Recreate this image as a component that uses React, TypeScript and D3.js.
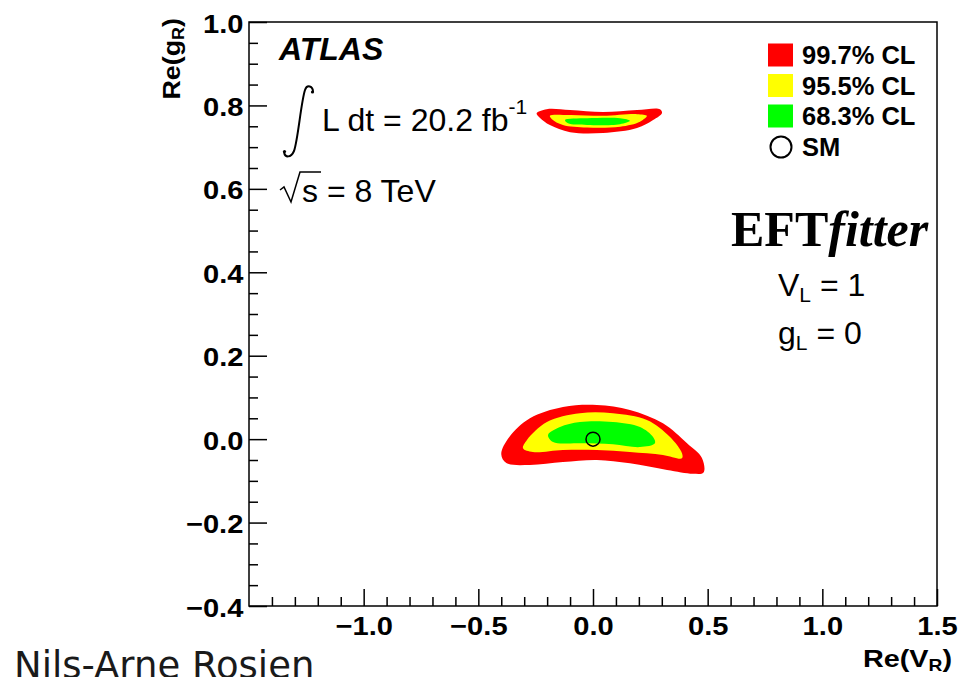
import React, { useRef, useEffect } from 'react';
import * as d3 from 'd3';

// axis ticks
const xMajorTicks = [-1.0, -0.5, 0.0, 0.5, 1.0, 1.5];
const yMajorTicks = [1.0, 0.8, 0.6, 0.4, 0.2, 0.0, -0.2, -0.4];

// legend
const clLabels = ['99.7% CL', '95.5% CL', '68.3% CL'];
const clColors = ['#ff0000', '#ffff00', '#00ff00'];

// SM point [Re(V_R), Re(g_R)]
const smPoint: [number, number] = [0, 0];

// contours near the SM point, [Re(V_R), Re(g_R)]
const lowRed: [number, number][] = [
  [-0.400, -0.036], [-0.365, 0.005], [-0.275, 0.050], [-0.131, 0.077], [0.017, 0.082],
  [0.161, 0.070], [0.305, 0.038], [0.410, -0.010], [0.475, -0.045], [0.482, -0.080],
  [0.436, -0.083], [0.323, -0.074], [0.161, -0.058], [0.017, -0.050], [-0.131, -0.055],
  [-0.275, -0.062], [-0.378, -0.057],
];
const lowYellow: [number, number][] = [
  [-0.305, -0.022], [-0.288, -0.002], [-0.201, 0.041], [-0.057, 0.062], [0.087, 0.062],
  [0.235, 0.046], [0.336, 0.005], [0.388, -0.034], [0.388, -0.046], [0.305, -0.038],
  [0.161, -0.031], [0.017, -0.026], [-0.131, -0.026], [-0.262, -0.031],
];
const lowGreen: [number, number][] = [
  [-0.196, 0.010], [-0.144, 0.029], [-0.057, 0.041], [0.087, 0.041], [0.205, 0.029],
  [0.262, 0.005], [0.270, -0.010], [0.205, -0.019], [0.087, -0.012], [-0.057, -0.010],
  [-0.174, -0.007],
];

// second solution near Re(g_R) ~ 0.77
const upRed: [number, number][] = [
  [-0.246, 0.781], [-0.202, 0.791], [-0.100, 0.789], [0.044, 0.784], [0.192, 0.789],
  [0.292, 0.791], [0.301, 0.782], [0.262, 0.765], [0.192, 0.746], [0.044, 0.734],
  [-0.100, 0.736], [-0.188, 0.753], [-0.231, 0.770],
];
const upYellow: [number, number][] = [
  [-0.188, 0.775], [-0.100, 0.777], [0.044, 0.775], [0.192, 0.779], [0.235, 0.775],
  [0.205, 0.761], [0.118, 0.749], [-0.026, 0.747], [-0.131, 0.753], [-0.179, 0.767],
];
const upGreen: [number, number][] = [
  [-0.122, 0.765], [-0.026, 0.769], [0.118, 0.769], [0.161, 0.763], [0.118, 0.755],
  [-0.026, 0.753], [-0.109, 0.757],
];

const W = 963;
const H = 677;

const App: React.FC = () => {
  const svgRef = useRef<SVGSVGElement>(null);

  useEffect(() => {
    if (!svgRef.current) return;
    d3.select(svgRef.current).selectAll('*').remove();

    const frame = { left: 249, right: 937, top: 22, bottom: 606 };

    const svg = d3.select(svgRef.current)
      .attr('width', W)
      .attr('height', H)
      .style('font-family', '"Liberation Sans", Arial, Helvetica, sans-serif');

    svg.append('rect').attr('width', W).attr('height', H).attr('fill', '#fff');

    const x = d3.scaleLinear().domain([-1.5, 1.5]).range([frame.left, frame.right]);
    const y = d3.scaleLinear().domain([-0.4, 1.0]).range([frame.bottom, frame.top]);

    // contours
    const line = d3.line<[number, number]>()
      .x(d => x(d[0]))
      .y(d => y(d[1]))
      .curve(d3.curveCatmullRomClosed.alpha(0.5));

    const bands = [
      [lowRed, lowYellow, lowGreen],
      [upRed, upYellow, upGreen],
    ];
    bands.forEach(set => {
      set.forEach((pts, i) => {
        svg.append('path')
          .attr('d', line(pts))
          .attr('fill', clColors[i]);
      });
    });

    // SM point
    svg.append('circle')
      .attr('cx', x(smPoint[0]))
      .attr('cy', y(smPoint[1]))
      .attr('r', 7)
      .attr('fill', 'none')
      .attr('stroke', '#000')
      .attr('stroke-width', 1.5);

    // frame
    svg.append('rect')
      .attr('x', frame.left)
      .attr('y', frame.top)
      .attr('width', frame.right - frame.left)
      .attr('height', frame.bottom - frame.top)
      .attr('fill', 'none')
      .attr('stroke', '#000')
      .attr('stroke-width', 1.5);

    const fmt = d3.format('.1f');

    // x minor ticks
    const xMinor = d3.range(-15, 16).map(v => v / 10).filter(v => Math.abs(v * 2 - Math.round(v * 2)) > 1e-6);
    const gxMinor = svg.append('g')
      .attr('transform', `translate(0,${frame.bottom})`)
      .call(d3.axisBottom(x).tickValues(xMinor).tickSizeInner(-9).tickSizeOuter(0).tickFormat(() => ''));
    gxMinor.select('.domain').remove();

    // x major ticks
    const gx = svg.append('g')
      .attr('transform', `translate(0,${frame.bottom})`)
      .call(d3.axisBottom(x).tickValues(xMajorTicks).tickSizeInner(-17).tickSizeOuter(0).tickFormat(d => fmt(d as number)));
    gx.select('.domain').remove();
    gx.selectAll('text')
      .attr('y', 29)
      .attr('dy', null)
      .attr('transform', 'scale(1.12,1)')
      .style('font-size', '26px')
      .style('font-weight', 'bold')
      .style('font-family', '"Liberation Sans", Arial, sans-serif')
      .attr('fill', '#000');

    // y minor ticks
    const yMinor = d3.range(-8, 21).map(v => v / 20).filter(v => Math.abs(v * 5 - Math.round(v * 5)) > 1e-6);
    const gyMinor = svg.append('g')
      .attr('transform', `translate(${frame.left},0)`)
      .call(d3.axisLeft(y).tickValues(yMinor).tickSizeInner(-9).tickSizeOuter(0).tickFormat(() => ''));
    gyMinor.select('.domain').remove();

    // y major ticks
    const gy = svg.append('g')
      .attr('transform', `translate(${frame.left},0)`)
      .call(d3.axisLeft(y).tickValues(yMajorTicks).tickSizeInner(-18).tickSizeOuter(0).tickFormat(d => fmt(d as number)));
    gy.select('.domain').remove();
    gy.selectAll('text')
      .attr('x', -5)
      .attr('y', 10)
      .attr('dy', null)
      .attr('transform', 'scale(1.12,1)')
      .style('font-size', '26px')
      .style('font-weight', 'bold')
      .style('font-family', '"Liberation Sans", Arial, sans-serif')
      .attr('fill', '#000');

    svg.selectAll('.tick line').attr('stroke', '#000').attr('stroke-width', 1.5);

    // axis titles
    const xt = svg.append('text')
      .attr('transform', 'translate(952,667) scale(1.2,1)')
      .attr('text-anchor', 'end')
      .style('font-size', '24px')
      .style('font-weight', 'bold');
    xt.append('tspan').text('Re(V');
    xt.append('tspan').attr('dy', 4).style('font-size', '16px').text('R');
    xt.append('tspan').attr('dy', -4).text(')');

    const yt = svg.append('text')
      .attr('transform', 'translate(180,18) rotate(-90) scale(1.12,1)')
      .attr('text-anchor', 'end')
      .style('font-size', '24px')
      .style('font-weight', 'bold');
    yt.append('tspan').text('Re(g');
    yt.append('tspan').attr('dy', 4).style('font-size', '16px').text('R');
    yt.append('tspan').attr('dy', -4).text(')');

    // ATLAS label
    svg.append('text')
      .attr('x', 279)
      .attr('y', 60)
      .style('font-size', '32px')
      .style('font-weight', 'bold')
      .style('font-style', 'italic')
      .text('ATLAS');

    // integral sign
    svg.append('path')
      .attr('d', 'M 313 92 C 313 86, 307 84, 305 90 C 301 102, 298 140, 294 151 C 291 158, 285 158, 284 152')
      .attr('fill', 'none')
      .attr('stroke', '#000')
      .attr('stroke-width', 2);
    svg.append('circle').attr('cx', 312.5).attr('cy', 92).attr('r', 1.6).attr('fill', '#000');
    svg.append('circle').attr('cx', 284.5).attr('cy', 151.5).attr('r', 1.6).attr('fill', '#000');

    const lumi = svg.append('text')
      .attr('x', 322)
      .attr('y', 131)
      .style('font-size', '32px');
    lumi.append('tspan').text('L dt = 20.2 fb');
    lumi.append('tspan').attr('dy', -17).style('font-size', '21px').text('-1');

    // sqrt(s)
    svg.append('path')
      .attr('d', 'M 280 190 L 284 187 L 291 202 L 300 172 L 321 172')
      .attr('fill', 'none')
      .attr('stroke', '#000')
      .attr('stroke-width', 1.5);
    svg.append('text')
      .attr('x', 302)
      .attr('y', 202)
      .style('font-size', '32px')
      .text('s = 8 TeV');

    // legend
    const legend = svg.append('g');
    clLabels.forEach((lab, i) => {
      const cy = 55 + i * 30.5;
      legend.append('rect')
        .attr('x', 768)
        .attr('y', cy - 11.5)
        .attr('width', 25)
        .attr('height', 23)
        .attr('fill', clColors[i]);
      legend.append('text')
        .attr('x', 802)
        .attr('y', cy + 9)
        .style('font-size', '25.5px')
        .style('font-weight', 'bold')
        .text(lab);
    });
    legend.append('circle')
      .attr('cx', 781)
      .attr('cy', 147)
      .attr('r', 10.5)
      .attr('fill', 'none')
      .attr('stroke', '#000')
      .attr('stroke-width', 2);
    legend.append('text')
      .attr('x', 802)
      .attr('y', 156)
      .style('font-size', '25.5px')
      .style('font-weight', 'bold')
      .text('SM');

    // EFTfitter logo
    const logo = svg.append('text')
      .attr('x', 731)
      .attr('y', 246)
      .style('font-family', '"Liberation Serif", "Times New Roman", serif')
      .style('font-size', '50px')
      .style('font-weight', 'bold');
    logo.append('tspan').text('EFT');
    logo.append('tspan').style('font-style', 'italic').text('fitter');

    // couplings
    const vl = svg.append('text').attr('x', 778).attr('y', 296).style('font-size', '32px');
    vl.append('tspan').text('V');
    vl.append('tspan').attr('dy', 6).style('font-size', '21px').text('L');
    vl.append('tspan').attr('dy', -6).text(' = 1');

    const gl = svg.append('text').attr('x', 778).attr('y', 344).style('font-size', '32px');
    gl.append('tspan').text('g');
    gl.append('tspan').attr('dy', 6).style('font-size', '21px').text('L');
    gl.append('tspan').attr('dy', -6).text(' = 0');

    // author footer
    svg.append('text')
      .attr('x', 14)
      .attr('y', 678)
      .style('font-family', '"DejaVu Sans", sans-serif')
      .style('font-size', '37px')
      .attr('fill', '#1a1a1a')
      .text('Nils-Arne Rosien');
  }, []);

  return (
    <svg
      ref={svgRef}
      style={{ position: 'absolute', left: 0, top: 0, display: 'block' }}
    />
  );
};

export default App;
